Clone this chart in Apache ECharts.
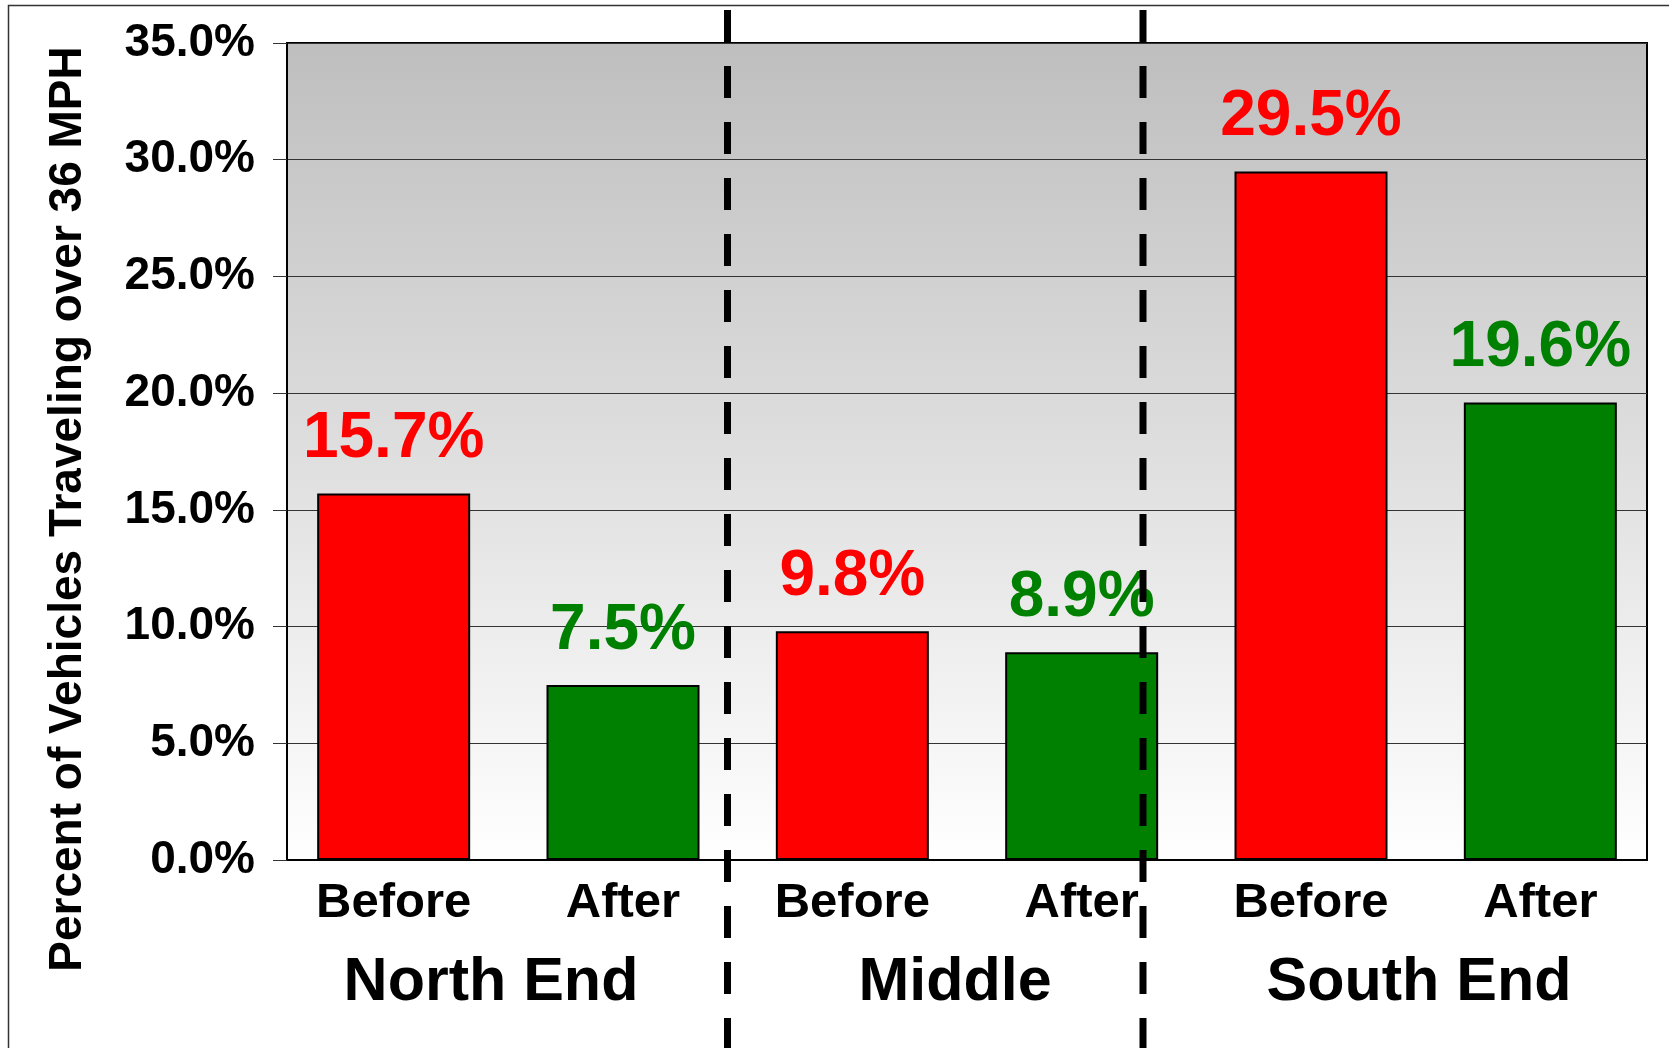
<!DOCTYPE html>
<html>
<head>
<meta charset="utf-8">
<script src="https://cdn.jsdelivr.net/npm/echarts@6/dist/echarts.min.js"></script>
<style>
html,body{margin:0;padding:0;background:#fff;}
#chart{width:1669px;height:1048px;}
</style>
</head>
<body>
<div id="chart"></div>
<script>
// ---- data ----
const categories = ["Before", "After", "Before", "After", "Before", "After"];
const groups = ["North End", "Middle", "South End"];
const values = [15.7, 7.5, 9.8, 8.9, 29.5, 19.6];
const yTicks = [0, 5, 10, 15, 20, 25, 30, 35];
const yAxisTitle = "Percent of Vehicles Traveling over 36 MPH";

// ---- styles ----
const phaseColor = { "Before": "#FF0000", "After": "#008000" };
const FONT = "'Liberation Sans', Arial, sans-serif";

const chart = echarts.init(document.getElementById('chart'), null, { renderer: 'canvas' });

const seriesData = values.map((v, i) => ({
  value: v,
  itemStyle: { color: phaseColor[categories[i]] },
  label: { color: phaseColor[categories[i]] }
}));

function dashedLine(x) {
  return {
    type: 'line',
    z: 100,
    shape: { x1: x, y1: 10, x2: x, y2: 1100 },
    style: { stroke: '#000', lineWidth: 7, lineDash: [32, 24] }
  };
}

const yMin = yTicks[0], yMax = yTicks[yTicks.length - 1], yStep = yTicks[1] - yTicks[0];

const option = {
  backgroundColor: '#fff',
  animation: false,
  grid: [
    { // visible plot frame
      left: 287, top: 43, right: 22, bottom: 188,
      show: true,
      borderColor: '#000',
      borderWidth: 2,
      backgroundColor: new echarts.graphic.LinearGradient(0, 0, 0, 1, [
        { offset: 0, color: '#BEBEBE' },
        { offset: 1, color: '#FFFFFF' }
      ])
    },
    { // bar placement
      left: 279, top: 43, width: 1376, bottom: 188, show: false
    },
    { // group labels
      left: 259, top: 43, width: 1392, bottom: 188, show: false
    }
  ],
  xAxis: [
    {
      gridIndex: 0,
      type: 'category',
      data: categories,
      axisLine: { show: true, lineStyle: { color: '#000', width: 2 } },
      axisTick: { show: false },
      axisLabel: { show: false },
      splitLine: { show: false }
    },
    {
      gridIndex: 1,
      type: 'category',
      data: categories,
      axisLine: { show: false },
      axisTick: { show: false },
      axisLabel: {
        fontFamily: FONT, fontWeight: 'bold', fontSize: 49, color: '#000',
        margin: 19, interval: 0
      },
      splitLine: { show: false }
    },
    {
      gridIndex: 2,
      type: 'category',
      data: groups,
      axisLine: { show: false },
      axisTick: { show: false },
      axisLabel: {
        fontFamily: FONT, fontWeight: 'bold', fontSize: 61, color: '#000',
        margin: 93, interval: 0
      },
      splitLine: { show: false }
    }
  ],
  yAxis: [
    {
      gridIndex: 0,
      type: 'value',
      min: yMin, max: yMax, interval: yStep,
      axisLine: { show: true, lineStyle: { color: '#000', width: 2 } },
      axisTick: { show: true, length: 14, lineStyle: { color: '#333', width: 1 } },
      axisLabel: {
        fontFamily: FONT, fontWeight: 'bold', fontSize: 46, color: '#000',
        margin: 32,
        formatter: v => v.toFixed(1) + '%'
      },
      splitLine: { show: true, lineStyle: { color: '#333', width: 1 } }
    },
    {
      gridIndex: 1,
      type: 'value',
      min: yMin, max: yMax, interval: yStep,
      show: false
    },
    {
      gridIndex: 2,
      type: 'value',
      min: yMin, max: yMax, interval: yStep,
      show: false
    }
  ],
  series: [{
    type: 'bar',
    xAxisIndex: 1,
    yAxisIndex: 1,
    data: seriesData,
    barWidth: 153,
    itemStyle: { borderColor: '#000', borderWidth: 2 },
    label: {
      show: true,
      position: 'top',
      distance: 22,
      fontFamily: FONT, fontWeight: 'bold', fontSize: 64,
      formatter: p => p.value.toFixed(1) + '%'
    }
  }],
  graphic: [
    {
      type: 'rect',
      z: 90,
      shape: { x: 8.5, y: 5.5, width: 1700, height: 1100 },
      style: { fill: 'none', stroke: '#333', lineWidth: 1.5 }
    },
    {
      type: 'text',
      z: 100,
      x: 68, y: 509,
      rotation: Math.PI / 2,
      style: {
        text: yAxisTitle,
        font: "bold 46px 'Liberation Sans', Arial, sans-serif",
        fill: '#000',
        align: 'center',
        verticalAlign: 'middle'
      }
    },
    dashedLine(727.5),
    dashedLine(1143)
  ]
};

chart.setOption(option);
</script>
</body>
</html>
